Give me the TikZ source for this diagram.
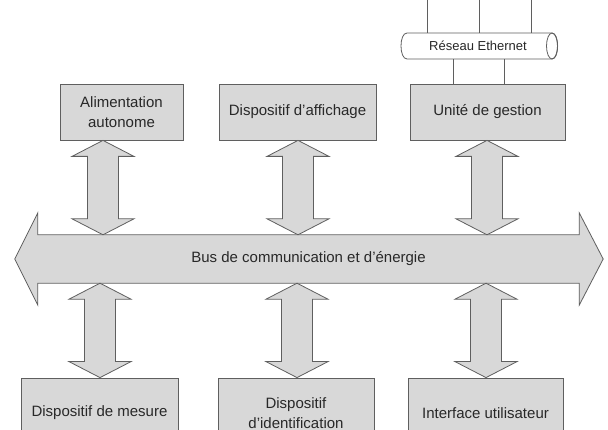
\documentclass[tikz,border=0pt]{standalone}
\usepackage{fontspec}
\setmainfont{Liberation Sans}
\usetikzlibrary{calc}
\definecolor{boxfill}{RGB}{216,216,216}
\definecolor{edge}{RGB}{95,95,95}
\definecolor{txt}{RGB}{40,40,40}
\tikzset{
  box/.style={draw=edge, fill=boxfill, line width=0.8pt, rectangle, inner sep=0pt,
    align=center, text=txt, font=\fontsize{15}{19.5}\selectfont},
  blk/.style={draw=edge, fill=boxfill, line width=0.8pt, line join=miter},
  wire/.style={draw=edge, line width=0.8pt}
}
\newcommand\vdarrow[3]{%
  \path[blk] let \p1=(#1), \p2=(#2), \p3=(#3) in
    (\x1,\y2) -- (\x1+31pt,\y2-16pt) -- (\x1+15.5pt,\y2-16pt) -- (\x1+15.5pt,\y3+16pt)
    -- (\x1+31pt,\y3+16pt) -- (\x1,\y3) -- (\x1-31pt,\y3+16pt) -- (\x1-15.5pt,\y3+16pt)
    -- (\x1-15.5pt,\y2-16pt) -- (\x1-31pt,\y2-16pt) -- cycle;}
\begin{document}
\begin{tikzpicture}[x=1pt,y=-1pt]
\useasboundingbox (0,0) rectangle (608,430);
\clip (0,0) rectangle (608,430);
\fill[white] (0,0) rectangle (608,430);

% top boxes
\node[box, minimum width=123, minimum height=56] (a1) at (121.5,112) {Alimentation\\autonome};
\node[box, minimum width=157, minimum height=56] (a2) at (297.5,112) {Dispositif d'affichage};
\node[box, minimum width=155, minimum height=56] (a3) at (487.5,112) {Unité de gestion};

% bottom boxes
\node[box, minimum width=157, minimum height=70] (b1) at (99.5,413) {Dispositif de mesure};
\node[box, minimum width=156, minimum height=70] (b2) at (296,413) {Dispositif\\d'identification};
\node[box, minimum width=155, minimum height=70] (b3) at (485.5,413) {Interface utilisateur};

% bus
\node[inner sep=0pt, minimum width=541, minimum height=48, text=txt,
      font=\fontsize{15}{19.5}\selectfont] (bus) at (308.5,259) {};
\path[blk] (bus.north west) -- ++(0,-22) -- ($(bus.west)+(-23,0)$) -- ($(bus.south west)+(0,22)$)
  -- (bus.south west) -- (bus.south east) -- ($(bus.south east)+(0,22)$)
  -- ($(bus.east)+(24,0)$) -- ($(bus.north east)+(0,-22)$) -- (bus.north east) -- cycle;
\node[text=txt, font=\fontsize{15}{19.5}\selectfont] at (bus.center) {Bus de communication et d'énergie};

% vertical double arrows
\vdarrow{$(a1.south)+(-18.5,0)$}{a1.south}{bus.north}
\vdarrow{$(a2.south)+(0.5,0)$}{a2.south}{bus.north}
\vdarrow{$(a3.south)+(-0.5,0)$}{a3.south}{bus.north}
\vdarrow{$(b1.north)+(0.5,0)$}{bus.south}{b1.north}
\vdarrow{$(b2.north)+(1,0)$}{bus.south}{b2.north}
\vdarrow{$(b3.north)+(0.5,0)$}{bus.south}{b3.north}

% Ethernet cylinder
\node[inner sep=0pt, minimum width=150, minimum height=26] (eth) at (479,46) {};
\path[wire, fill=white] (552,33) -- (407,33) .. controls (399,33) and (399,59) .. (407,59)
  -- (552,59) .. controls (559.5,59) and (559.5,33) .. (552,33) -- cycle;
\draw[wire] (552,46) ellipse [x radius=5.5, y radius=13];
\node[text=txt, font=\fontsize{13}{15}\selectfont] at (478,46) {Réseau Ethernet};

\coordinate (t1) at (427,-2);
\coordinate (t2) at (479,-2);
\coordinate (t3) at (531,-2);
\draw[wire] (t1) -- (t1 |- eth.north);
\draw[wire] (t2) -- (t2 |- eth.north);
\draw[wire] (t3) -- (t3 |- eth.north);
\coordinate (d1) at (453,0);
\coordinate (d2) at (504,0);
\draw[wire] (eth.south -| d1) -- (a3.north -| d1);
\draw[wire] (eth.south -| d2) -- (a3.north -| d2);
\end{tikzpicture}
\end{document}
